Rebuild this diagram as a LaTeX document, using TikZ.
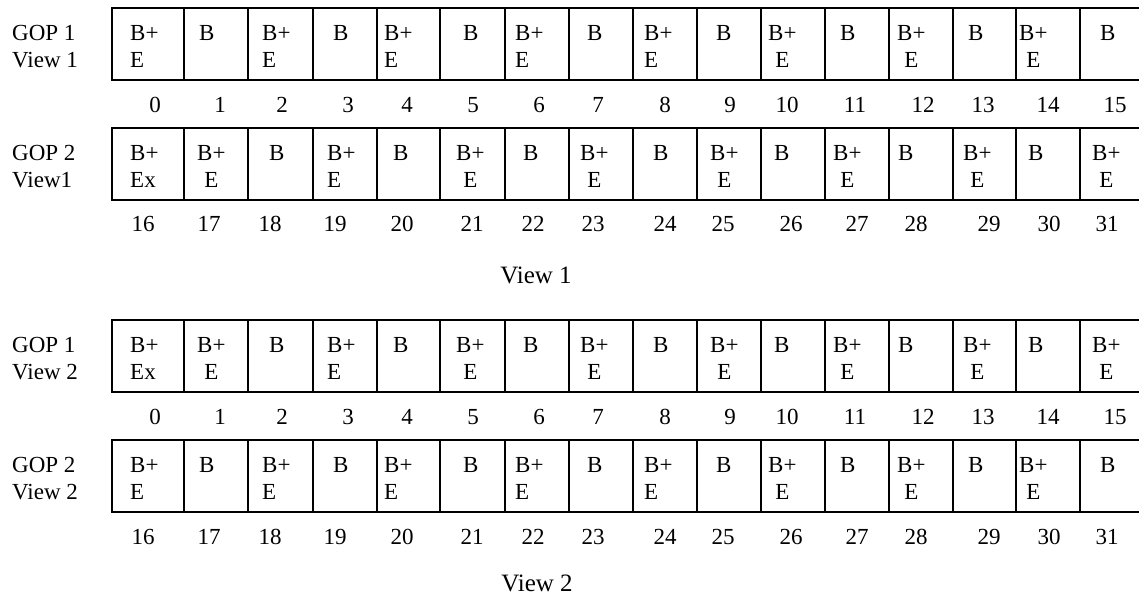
\documentclass[tikz,border=0pt]{standalone}
\usepackage{fontspec}
\setmainfont{Liberation Serif}
\usetikzlibrary{positioning}

\begin{document}
\begin{tikzpicture}[
  x=1pt, y=-1pt,
  every node/.style={inner sep=0pt, font=\fontsize{23}{27}\selectfont},
  cell/.style={draw, line width=2pt, minimum height=72pt, anchor=north west},
  ftype/.style={anchor=north west, align=#1},
  ftype/.default=left,
  num/.style={anchor=base},
  rowlabel/.style={anchor=north west, align=left},
  caption/.style={anchor=base, font=\fontsize{25}{30}\selectfont}
]
\useasboundingbox (0,0) rectangle (1139,598);
\clip (0,0) rectangle (1139,598);

% the four GOP rows of frames
\foreach \row/\y in {1/7,2/127,3/319,4/439}{
  \foreach \i/\x/\w in {0/111/72,1/183/64,2/247/65,3/312/64,4/376/63,5/439/65,6/504/64,7/568/64,
                        8/632/64,9/696/64,10/760/64,11/824/64,12/888/64,13/952/63,14/1015/64,15/1079/70}
    \node[cell, minimum width=\w pt] (r\row c\i) at (\x,\y) {};
}

% frame types, rows 1 and 4
\foreach \row in {1,4}{
  \foreach \i/\txt/\dx/\a in {0/{B+\\E}/19/left,1/B/16/left,2/{B+\\E}/15/left,3/B/21/left,
                              4/{B+\\E}/8/left,5/B/24/left,6/{B+\\E}/11/left,7/B/19/left,
                              8/{B+\\E}/12/left,9/B/20/left,10/{B+\\E}/8/center,11/B/16/left,
                              12/{B+\\E}/9/center,13/B/16/left,14/{B+\\E}/4/center,15/B/21/left}
    \node[ftype=\a] (t\row-\i) at ([xshift=\dx pt, yshift=-18pt]r\row c\i.north west) {\txt};
}

% frame types, rows 2 and 3
\foreach \row in {2,3}{
  \foreach \i/\txt/\dx/\a in {0/{B+\\Ex}/19/left,1/{B+\\E}/14/center,2/B/22/left,3/{B+\\E}/15/left,
                              4/B/17/left,5/{B+\\E}/17/center,6/B/19/left,7/{B+\\E}/12/center,
                              8/B/21/left,9/{B+\\E}/14/center,10/B/14/left,11/{B+\\E}/9/center,
                              12/B/10/left,13/{B+\\E}/11/center,14/B/13/left,15/{B+\\E}/13/center}
    \node[ftype=\a] (t\row-\i) at ([xshift=\dx pt, yshift=-18pt]r\row c\i.north west) {\txt};
}

% frame numbers
\foreach \row/\yb in {1/112,3/424}{
  \foreach \n/\x in {0/155,1/220,2/282,3/348,4/407,5/473,6/539,7/598,
                     8/665,9/730,10/787,11/855,12/923,13/983,14/1048,15/1115}
    \node[num] (n\row-\n) at (\x,\yb) {\n};
}
\foreach \row/\yb in {2/231,4/544}{
  \foreach \n/\x in {16/143,17/209,18/270,19/335,20/402,21/472,22/533,23/593,
                     24/665,25/723,26/791,27/857,28/916,29/989,30/1049,31/1107}
    \node[num] (n\row-\n) at (\x,\yb) {\n};
}

% row labels
\node[rowlabel] (lab1) at (12,25) {GOP 1\\View 1};
\node[rowlabel] (lab2) at (12,145) {GOP 2\\View1};
\node[rowlabel] (lab3) at (12,337) {GOP 1\\View 2};
\node[rowlabel] (lab4) at (12,457) {GOP 2\\View 2};

\node[caption] (cap1) at (536,283) {View 1};
\node[caption] (cap2) at (537,591) {View 2};
\end{tikzpicture}
\end{document}
